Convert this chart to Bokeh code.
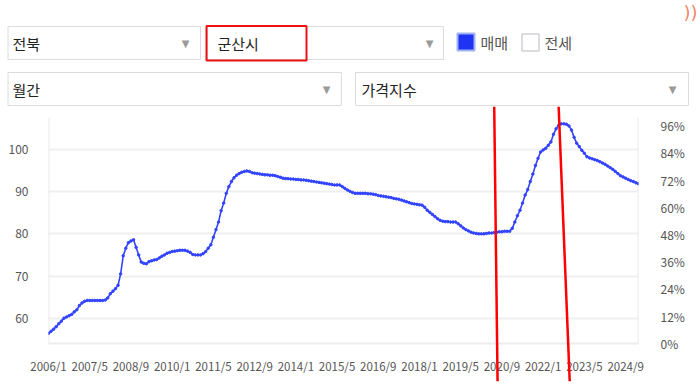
from bokeh.plotting import figure
from bokeh.models import Range1d, LinearAxis, FixedTicker, PrintfTickFormatter, Arrow, ColumnDataSource
from bokeh.embed import file_html
from bokeh.resources import INLINE
from bokeh.core.properties import value

FONT = "Noto Sans CJK KR"

# ---------------- data ----------------
start_label = "2006/1"
price_index = [
    # 2006
    56.4, 56.9, 57.4, 58.0, 58.7, 59.3, 60.0, 60.3, 60.6, 60.9, 61.5, 62.0,
    # 2007
    63.0, 63.6, 64.0, 64.2, 64.2, 64.2, 64.2, 64.2, 64.2, 64.2, 64.3, 64.8,
    # 2008
    65.8, 66.4, 67.0, 67.8, 70.5, 74.8, 76.6, 77.9, 78.3, 78.6, 76.8, 75.0,
    # 2009
    73.3, 73.0, 72.9, 73.4, 73.6, 73.8, 73.9, 74.3, 74.7, 75.0, 75.4, 75.6,
    # 2010
    75.8, 75.9, 76.0, 76.1, 76.1, 76.1, 75.9, 75.6, 75.1, 75.0, 75.0, 75.0,
    # 2011
    75.3, 75.8, 76.6, 77.4, 79.2, 81.0, 82.8, 85.5, 87.3, 89.6, 91.2, 92.4,
    # 2012
    93.3, 93.9, 94.3, 94.6, 94.8, 94.9, 94.8, 94.5, 94.4, 94.3, 94.2, 94.1,
    # 2013
    94.0, 94.0, 93.9, 93.9, 93.8, 93.6, 93.4, 93.2, 93.1, 93.1, 93.0, 93.0,
    # 2014
    92.9, 92.9, 92.8, 92.8, 92.7, 92.6, 92.5, 92.4, 92.3, 92.2, 92.1, 92.0,
    # 2015
    91.9, 91.8, 91.7, 91.6, 91.6, 91.6, 91.2, 90.8, 90.4, 90.1, 89.8, 89.6,
    # 2016
    89.6, 89.6, 89.6, 89.6, 89.5, 89.5, 89.4, 89.3, 89.1, 89.0, 88.9, 88.8,
    # 2017
    88.7, 88.6, 88.4, 88.3, 88.2, 88.0, 87.8, 87.6, 87.4, 87.2, 87.1, 87.0,
    # 2018
    86.9, 86.8, 86.3, 85.6, 85.1, 84.6, 84.1, 83.6, 83.2, 83.0, 82.9, 82.9,
    # 2019
    82.8, 82.8, 82.8, 82.4, 81.9, 81.4, 81.0, 80.7, 80.4, 80.2, 80.1, 80.0,
    # 2020
    80.0, 80.0, 80.1, 80.2, 80.2, 80.3, 80.4, 80.5, 80.5, 80.6, 80.6, 80.6,
    # 2021
    81.3, 82.8, 84.3, 85.6, 87.3, 89.2, 90.5, 92.4, 94.2, 96.2, 97.9, 99.4,
    # 2022
    99.9, 100.3, 101.0, 101.8, 103.6, 104.9, 105.7, 106.1, 106.1, 106.0, 105.6, 104.6,
    # 2023
    102.9, 101.5, 100.7, 99.8, 99.1, 98.3, 98.0, 97.8, 97.6, 97.4, 97.1, 96.8,
    # 2024
    96.5, 96.1, 95.7, 95.3, 94.8, 94.3, 93.8, 93.5, 93.2, 92.9, 92.6, 92.4,
    # 2025
    92.1, 91.9,
]
x_tick_labels = ["2006/1", "2007/5", "2008/9", "2010/1", "2011/5", "2012/9", "2014/1",
                 "2015/5", "2016/9", "2018/1", "2019/5", "2020/9", "2022/1", "2023/5", "2024/9"]
left_ticks = [60, 70, 80, 90, 100]
right_ticks = [0, 12, 24, 36, 48, 60, 72, 84, 96]

# visible plotting box (left-axis units) and the taller canvas the red marks need
plot_floor, plot_ceiling = 54.0, 107.6
left_range = (44.75, 110.2)
pct_per_unit = 96 / (105.69 - plot_floor)          # right axis: 0% at the floor
right_range = ((left_range[0] - plot_floor) * pct_per_unit,
               (left_range[1] - plot_floor) * pct_per_unit)

# dates of the two hand-drawn red marker lines
marker_start_labels = ["2020/6", "2022/7"]
marker_end_labels = ["2020/7", "2022/11"]

province = "전북"
city = "군산시"
period = "월간"
measure = "가격지수"
trade_types = ["매매", "전세"]


def month_index(label):
    y, m = label.split("/")
    y0, m0 = start_label.split("/")
    return (int(y) - int(y0)) * 12 + (int(m) - int(m0))


months = list(range(len(price_index)))
last = len(price_index) - 1
tick_pos = [month_index(s) for s in x_tick_labels]

W = 700

# ---------------- header (selectors) ----------------
hdr = figure(width=W, height=106, x_range=Range1d(0, 700), y_range=Range1d(106, 0),
             output_backend="svg", toolbar_location=None,
             x_axis_location=None, y_axis_location=None, min_border=0)
hdr.grid.visible = False
hdr.outline_line_color = None

box_l = [7.5, 207, 7.5, 355]
box_r = [200, 443, 341, 688]
box_t = [26, 26, 72, 72]
box_b = [59, 59, 105, 105]
hdr.quad(left=box_l, right=box_r, top=box_t, bottom=box_b,
         fill_color="white", line_color="#dcdcdc", line_width=1)
hdr.quad(left=[206], right=[306], top=[25.5], bottom=[60],
         fill_color=None, line_color="#ee1111", line_width=2)
hdr.text(x=[12, 217, 12, 361], y=[43, 43, 89, 89],
         text=[province, city, period, measure], text_baseline="middle",
         text_font=value(FONT), text_font_size="15px", text_color="#222222")
hdr.text(x=[185, 429, 326, 672], y=[43, 43, 89, 89], text=["▼"] * 4,
         text_align="center", text_baseline="middle",
         text_font=value("DejaVu Sans"), text_font_size="10px", text_color="#9a9a9a")
hdr.quad(left=[457], right=[474], top=[33], bottom=[50],
         fill_color="#1f33f2", line_color="#9fb2f2", line_width=2)
hdr.quad(left=[521.5], right=[538.5], top=[33.5], bottom=[50.5],
         fill_color="white", line_color="#cfd0d6", line_width=1.5)
hdr.text(x=[480, 544], y=[42, 42], text=trade_types, text_baseline="middle",
         text_font=value(FONT), text_font_size="15px", text_color="#555555")
# small decoration in the top-right corner
hdr.text(x=[697], y=[12], text=["))"], text_align="right", text_baseline="middle",
         text_font=value("DejaVu Sans"), text_font_size="18px", text_color="#f2866a")

# ---------------- chart ----------------
p = figure(width=W, height=279, x_range=Range1d(0, last),
           y_range=Range1d(*left_range), output_backend="svg", toolbar_location=None,
           min_border_left=48, min_border_right=62, min_border_top=0, min_border_bottom=3,
           y_axis_location=None)
p.extra_y_ranges = {"pct": Range1d(*right_range)}
p.outline_line_color = None
p.xgrid.visible = False

left_ax = LinearAxis(ticker=FixedTicker(ticks=left_ticks))
right_ax = LinearAxis(y_range_name="pct", ticker=FixedTicker(ticks=right_ticks),
                      formatter=PrintfTickFormatter(format="%d%%"))
p.add_layout(left_ax, "left")
p.add_layout(right_ax, "right")

p.xaxis.ticker = FixedTicker(ticks=tick_pos)
p.xaxis.major_label_overrides = {t: s for t, s in zip(tick_pos, x_tick_labels)}

for ax in [left_ax, right_ax] + list(p.xaxis):
    ax.axis_line_color = None
    ax.major_tick_line_color = None
    ax.minor_tick_line_color = None
    ax.major_label_text_font = FONT
    ax.major_label_text_font_size = "12px"
    ax.major_label_text_color = "#555555"
p.xaxis.major_label_text_font_size = "11.5px"
left_ax.major_label_standoff = 14
right_ax.major_label_standoff = 16
p.xaxis.major_label_standoff = -31

p.ygrid.ticker = FixedTicker(ticks=left_ticks)
p.ygrid.grid_line_color = "#efefef"
p.ygrid.grid_line_width = 2

# light frame around the plotting box (left, right, bottom)
p.segment(x0=[0, last, 0], y0=[plot_floor, plot_floor, plot_floor],
          x1=[0, last, last], y1=[plot_ceiling, plot_ceiling, plot_floor],
          line_color="#ececec", line_width=2)

src = ColumnDataSource(dict(x=months, y=price_index))
p.line("x", "y", source=src, line_color="#3344ff", line_width=1.6)
p.scatter("x", "y", source=src, size=2.5, fill_color="#3344ff", line_color="#3344ff")

# hand-drawn red marker lines
for s, e in zip(marker_start_labels, marker_end_labels):
    p.add_layout(Arrow(end=None, x_start=month_index(s), y_start=left_range[1],
                       x_end=month_index(e) + 0.3, y_end=left_range[0] + 0.3,
                       line_color="#ff0000", line_width=2.5))

open("out.html", "w").write(file_html([hdr, p], INLINE))
